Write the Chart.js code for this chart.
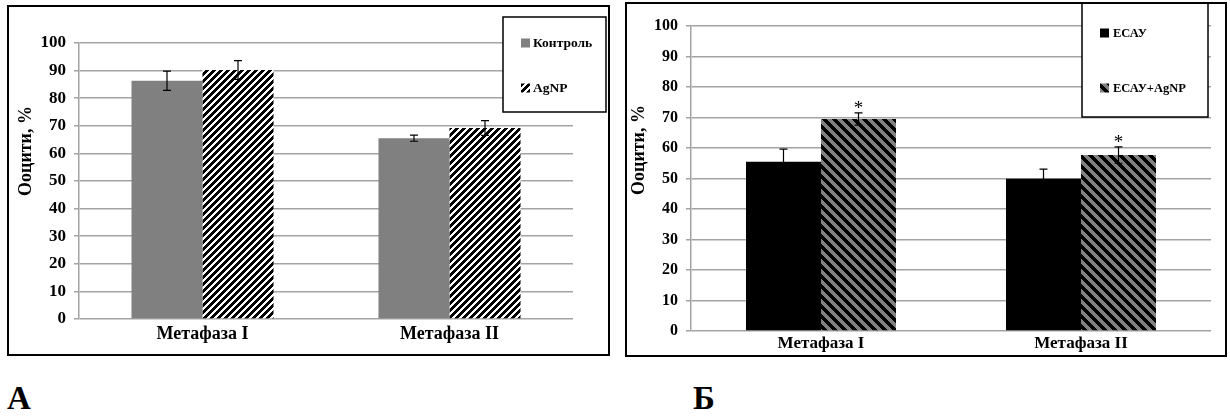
<!DOCTYPE html>
<html lang="uk">
<head>
<meta charset="utf-8">
<script src="https://cdn.jsdelivr.net/npm/chart.js@4/dist/chart.umd.min.js"></script>
<style>
  body { margin: 0; background: #fff; width: 1230px; height: 417px; position: relative; overflow: hidden; }
  .panel { position: absolute; border: 2px solid #000; box-sizing: border-box; background: #fff; }
  #panelA { left: 7px; top: 5px; width: 603px; height: 351px; }
  #panelB { left: 625px; top: 2px; width: 602px; height: 355px; }
  .panel canvas { display: block; }
  .letter { position: absolute; font: bold 33px "Liberation Serif", serif; color: #000; line-height: 1; }
</style>
</head>
<body>
<div class="panel" id="panelA"><canvas id="chartA" width="599" height="347"></canvas></div>
<div class="panel" id="panelB"><canvas id="chartB" width="598" height="351"></canvas></div>
<div class="letter" style="left:7px;top:382px">А</div>
<div class="letter" style="left:693px;top:382px">Б</div>
<script>
const categories = ['Метафаза I', 'Метафаза II'];

// panel A: control vs silver nanoparticles
const controlValues = [86.3, 65.5];
const controlErrors = [3.5, 1.1];
const agnpValues = [90.2, 69.2];
const agnpErrors = [3.4, 2.7];

// panel B: ЕСАУ vs ЕСАУ+AgNP
const ecauValues = [55.5, 49.9];
const ecauErrors = [4.1, 3.2];
const ecauAgnpValues = [69.5, 57.7];
const ecauAgnpErrors = [2.0, 2.7];
const ecauAgnpMarks = ['*', '*'];

const yTicks = { min: 0, max: 100, step: 10 };

const SERIF = '"Liberation Serif", "Times New Roman", serif';
const GRID = '#a3a3a3';

// diagonal stripes; dir 1 = "/", dir -1 = "\"
function stripePattern(period, band, dark, light, dir) {
  const c = document.createElement('canvas');
  c.width = c.height = period;
  const g = c.getContext('2d');
  const img = g.createImageData(period, period);
  for (let y = 0; y < period; y++) {
    for (let x = 0; x < period; x++) {
      const k = dir > 0 ? (x + y) % period : ((x - y) % period + period) % period;
      const col = k < band ? dark : light;
      const i = (y * period + x) * 4;
      img.data[i] = col[0]; img.data[i + 1] = col[1]; img.data[i + 2] = col[2]; img.data[i + 3] = 255;
    }
  }
  g.putImageData(img, 0, 0);
  return g.createPattern(c, 'repeat');
}

const bwStripes = stripePattern(7, 4, [0, 0, 0], [255, 255, 255], 1);
const greyStripes = stripePattern(10, 5, [0, 0, 0], [128, 128, 128], -1);

const errorBars = {
  id: 'errorBars',
  afterDatasetsDraw(chart) {
    const ctx = chart.ctx;
    const y = chart.scales.y;
    ctx.save();
    chart.data.datasets.forEach((ds, di) => {
      const meta = chart.getDatasetMeta(di);
      meta.data.forEach((bar, i) => {
        const v = ds.data[i], e = ds.errors[i];
        const top = y.getPixelForValue(v + e);
        const bottom = y.getPixelForValue(v - e);
        ctx.strokeStyle = '#000';
        ctx.lineWidth = 1.2;
        ctx.beginPath();
        ctx.moveTo(bar.x, top); ctx.lineTo(bar.x, bottom);
        ctx.moveTo(bar.x - 4, top); ctx.lineTo(bar.x + 4, top);
        ctx.moveTo(bar.x - 4, bottom); ctx.lineTo(bar.x + 4, bottom);
        ctx.stroke();
        if (ds.marks && ds.marks[i]) {
          ctx.fillStyle = '#000';
          ctx.font = '19px ' + SERIF;
          ctx.textAlign = 'center';
          ctx.textBaseline = 'alphabetic';
          ctx.fillText(ds.marks[i], bar.x, top + 1);
        }
      });
    });
    ctx.restore();
  }
};

const boxLegend = {
  id: 'boxLegend',
  afterDraw(chart, args, opts) {
    const ctx = chart.ctx;
    const b = opts.box;
    ctx.save();
    ctx.fillStyle = '#fff';
    ctx.fillRect(b.x, b.y, b.w, b.h);
    ctx.strokeStyle = '#000';
    ctx.lineWidth = 1.5;
    ctx.strokeRect(b.x, b.y, b.w, b.h);
    ctx.font = 'bold ' + opts.fontSize + 'px ' + SERIF;
    ctx.textBaseline = 'middle';
    ctx.textAlign = 'left';
    chart.data.datasets.forEach((ds, i) => {
      const cy = opts.rows[i];
      ctx.fillStyle = ds.backgroundColor;
      ctx.fillRect(opts.markerX, cy - opts.marker / 2, opts.marker, opts.marker);
      ctx.fillStyle = '#000';
      ctx.fillText(ds.label, opts.textX, cy + 1);
    });
    ctx.restore();
  }
};

const yTitle = {
  id: 'yTitle',
  afterDraw(chart, args, opts) {
    const ctx = chart.ctx;
    ctx.save();
    ctx.translate(opts.x, opts.y);
    ctx.rotate(-Math.PI / 2);
    ctx.font = 'bold ' + opts.fontSize + 'px ' + SERIF;
    ctx.fillStyle = '#000';
    ctx.textAlign = 'center';
    ctx.textBaseline = 'middle';
    ctx.fillText(opts.text, 0, 0);
    ctx.restore();
  }
};

function buildChart(id, cfg) {
  return new Chart(document.getElementById(id), {
    type: 'bar',
    data: { labels: categories, datasets: cfg.datasets },
    options: {
      responsive: false,
      animation: false,
      layout: { padding: cfg.padding },
      datasets: { bar: { categoryPercentage: cfg.groupWidth, barPercentage: 1, borderWidth: 0 } },
      plugins: {
        legend: { display: false },
        tooltip: { enabled: false },
        boxLegend: cfg.legend,
        yTitle: cfg.title
      },
      scales: {
        x: {
          grid: { display: false, drawTicks: false },
          border: { display: false },
          ticks: { color: '#000', font: { family: SERIF, size: cfg.catFont, weight: 'bold' }, padding: cfg.catPad },
          afterFit: s => { s.height = cfg.xHeight; }
        },
        y: {
          min: yTicks.min,
          max: yTicks.max,
          grid: { color: GRID, lineWidth: 1.5, tickLength: 5 },
          border: { color: GRID, width: 1.5 },
          ticks: { stepSize: yTicks.step, color: '#000', padding: 8, font: { family: SERIF, size: cfg.tickFont, weight: 'bold' } },
          afterFit: s => { s.width = cfg.yWidth; }
        }
      }
    },
    plugins: [errorBars, boxLegend, yTitle]
  });
}

buildChart('chartA', {
  datasets: [
    { label: 'Контроль', data: controlValues, errors: controlErrors, backgroundColor: '#808080' },
    { label: 'AgNP', data: agnpValues, errors: agnpErrors, backgroundColor: bwStripes }
  ],
  padding: { top: 36, right: 35, left: 0, bottom: 0 },
  yWidth: 70, xHeight: 35, groupWidth: 0.575,
  tickFont: 17, catFont: 18, catPad: 5,
  legend: { box: { x: 494, y: 10, w: 103, h: 95 }, markerX: 512, textX: 524, marker: 9, rows: [36, 81], fontSize: 13.5 },
  title: { text: 'Ооцити, %', x: 17, y: 144, fontSize: 18 }
});

buildChart('chartB', {
  datasets: [
    { label: 'ЕСАУ', data: ecauValues, errors: ecauErrors, backgroundColor: '#000' },
    { label: 'ЕСАУ+AgNP', data: ecauAgnpValues, errors: ecauAgnpErrors, marks: ecauAgnpMarks, backgroundColor: greyStripes }
  ],
  padding: { top: 22, right: 14, left: 0, bottom: 0 },
  yWidth: 64, xHeight: 24, groupWidth: 0.577,
  tickFont: 16, catFont: 17, catPad: 2,
  legend: { box: { x: 455, y: -2, w: 126, h: 115 }, markerX: 473, textX: 486, marker: 9, rows: [29, 84], fontSize: 12.5 },
  title: { text: 'Ооцити, %', x: 12, y: 146, fontSize: 18 }
});
</script>
</body>
</html>
